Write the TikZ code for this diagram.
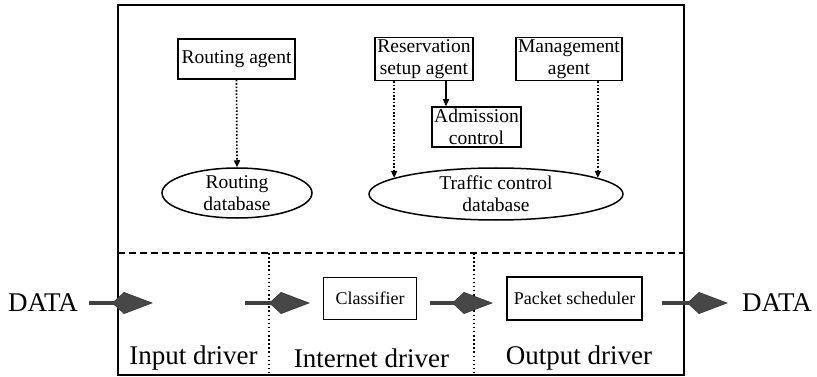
\documentclass[tikz,border=0pt]{standalone}
\usepackage{fontspec}
\setmainfont{Liberation Serif}
\usetikzlibrary{arrows.meta,shapes.geometric}

\tikzset{
  agentbox/.style={draw, line width=1.5pt, inner sep=2pt, align=center,
    font=\fontsize{19.5}{22}\selectfont},
  pathbox/.style={draw, line width=1.4pt, inner sep=2pt,
    font=\fontsize{18}{20}\selectfont},
  dbase/.style={draw, ellipse, line width=1.5pt, inner sep=0pt, align=center,
    font=\fontsize{19.5}{22}\selectfont},
  bigtext/.style={inner sep=0pt, font=\fontsize{27}{30}\selectfont},
  driverlabel/.style={inner sep=0pt, font=\fontsize{27}{30}\selectfont},
  dotarrow/.style={line width=1.7pt, dash pattern=on 1.6pt off 1.8pt,
    -{Triangle[length=7pt,width=6pt]}},
  solidarrow/.style={line width=1.4pt, -{Triangle[length=7pt,width=6pt]}},
  flow/.style={line width=3.2pt, draw=black!75,
    -{Kite[length=41pt,width=22pt,inset=12pt,fill=black!72,line width=1pt]}},
  divider/.style={line width=1.3pt, dash pattern=on 1.5pt off 2.6pt},
}

\begin{document}
\begin{tikzpicture}[x=1pt,y=-1pt]
  \useasboundingbox (0,0) rectangle (817,377);

  % frame of the router and the control / data plane split
  \draw[line width=1.6pt] (118,5) rectangle (684,375);
  \draw[line width=1.3pt, dash pattern=on 7pt off 4pt] (118,253) -- (684,253);
  \draw[divider] (269,253) -- (269,375);
  \draw[divider] (474,253) -- (474,375);

  % control plane
  \node[agentbox, minimum width=117pt, minimum height=40pt] (ra) at (236.5,59) {Routing agent};
  \node[agentbox, minimum width=98pt, minimum height=42pt] (rsa) at (424,59) {Reservation\\setup agent};
  \node[agentbox, minimum width=102pt, minimum height=42pt] (ma) at (569,59) {Management\\agent};
  \node[agentbox, minimum width=83pt, minimum height=40pt] (ac) at (476.5,127) {Admission\\control};
  \node[dbase, minimum width=150pt, minimum height=50pt] (rdb) at (237,193) {Routing\\database};
  \node[dbase, minimum width=254pt, minimum height=52pt] (tcd) at (496,194) {Traffic control\\database};

  \coordinate (acx) at (446,0);
  \draw[dotarrow] (ra.south) -- (rdb.north);
  \draw[dotarrow] (tcd.171 |- rsa.south) -- (tcd.171);
  \draw[dotarrow] (tcd.9 |- ma.south) -- (tcd.9);
  \draw[solidarrow] (acx |- rsa.south) -- (acx |- ac.north);

  % data plane
  \node[bigtext] (dataL) at (43,303) {DATA};
  \node[bigtext] (dataR) at (777,303) {DATA};
  \node[pathbox, minimum width=93pt, minimum height=42pt] (cls) at (370,298.5) {Classifier};
  \node[pathbox, minimum width=135pt, minimum height=43pt] (ps) at (574.5,298.5) {Packet scheduler};

  \coordinate (s1) at (89,303);   \coordinate (e1) at (153,303);
  \coordinate (s2) at (245,303);  \coordinate (e2) at (310,303);
  \coordinate (s3) at (430,303);  \coordinate (e3) at (493,303);
  \coordinate (s4) at (662,303);  \coordinate (e4) at (728,303);
  \draw[flow] (s1) -- (e1);
  \draw[flow] (s2) -- (e2);
  \draw[flow] (s3) -- (e3);
  \draw[flow] (s4) -- (e4);

  \node[driverlabel] (lin) at (193.5,358) {Input driver};
  \node[driverlabel] (lnet) at (371.5,358) {Internet driver};
  \node[driverlabel] (lout) at (579,358) {Output driver};
\end{tikzpicture}
\end{document}
